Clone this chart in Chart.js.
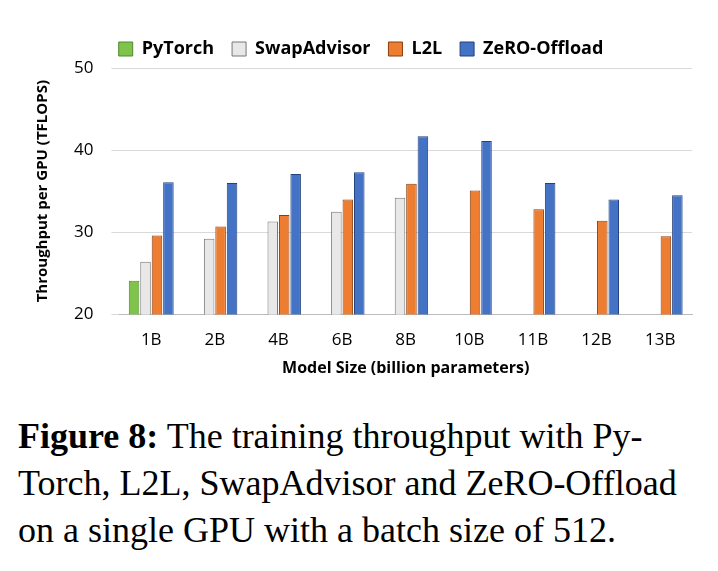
<!DOCTYPE html>
<html><head><meta charset="utf-8">
<script src="https://cdn.jsdelivr.net/npm/chart.js@4"></script>
<style>
body{margin:0;background:#fff;width:718px;height:571px;overflow:hidden}
#wrap{position:absolute;left:30px;top:22px;width:680px;height:360px}
#cap{position:absolute;left:18px;top:413px;width:700px;font-family:"Liberation Serif",serif;font-size:36px;line-height:47px;color:#000;white-space:nowrap}
</style></head><body>
<div id="wrap"><canvas id="c"></canvas></div>
<div id="cap"><b>Figure 8:</b> The training throughput with Py-<br>Torch, L2L, SwapAdvisor and ZeRO-Offload<br>on a single GPU with a batch size of 512.</div>
<script>
const categories=["1B","2B","4B","6B","8B","10B","11B","12B","13B"];
const pytorch=[24.1,null,null,null,null,null,null,null,null];
const swapAdvisor=[26.4,29.2,31.3,32.5,34.2,null,null,null,null];
const l2l=[29.6,30.7,32.1,34.0,35.9,35.1,32.8,31.4,29.5];
const zero=[36.1,36.0,37.1,37.3,41.7,41.1,36.0,34.0,34.5];
const yTicks=[20,30,40,50];
const ds=(label,data,bg,bd)=>({label,data,backgroundColor:bg,borderColor:bd,borderWidth:1,barPercentage:0.92,categoryPercentage:0.72});
new Chart(document.getElementById('c'),{type:'bar',
data:{labels:categories,datasets:[
ds("PyTorch",pytorch,"#7fc34d","#4e8a2a"),
ds("SwapAdvisor",swapAdvisor,"#e8e8e8","#777"),
ds("L2L",l2l,"#ed7d31","#8a3f10"),
ds("ZeRO-Offload",zero,"#4472c4","#23427d")]},
options:{responsive:true,maintainAspectRatio:false,animation:false,
layout:{padding:{right:18}},
plugins:{legend:{position:'top',labels:{boxWidth:14,boxHeight:14,padding:18,color:'#000',font:{family:'"Open Sans",sans-serif',size:18,weight:'bold'}}},tooltip:{enabled:false}},
scales:{
x:{grid:{display:false},border:{color:'#bbb'},ticks:{color:'#000',padding:8,font:{family:'"Open Sans",sans-serif',size:17}},
 title:{display:true,text:'Model Size (billion parameters)',color:'#000',font:{family:'"Open Sans",sans-serif',size:16,weight:'bold'},padding:{top:0}}},
y:{min:20,max:50,afterBuildTicks:a=>{a.ticks=yTicks.map(v=>({value:v}))},grid:{color:'#d9d9d9'},border:{display:false},
 ticks:{color:'#000',padding:18,font:{family:'"Open Sans",sans-serif',size:17}},
 title:{display:true,text:'Throughput per GPU (TFLOPS)',color:'#000',font:{family:'"Open Sans",sans-serif',size:15,weight:'bold'}}}}}});
</script></body></html>
